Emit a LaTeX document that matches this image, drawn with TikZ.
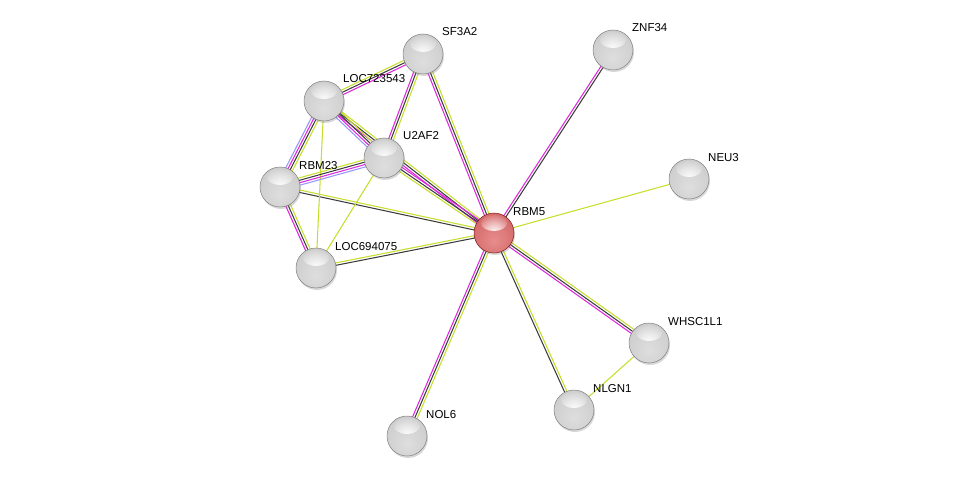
\documentclass[tikz,border=0pt]{standalone}
\usepackage{fontspec}
\setmainfont{Liberation Sans}
\usetikzlibrary{calc,backgrounds,shadows,fadings}
\definecolor{tm}{RGB}{199,222,44}
\definecolor{co}{RGB}{60,60,60}
\definecolor{ex}{RGB}{222,40,222}
\definecolor{ho}{RGB}{150,150,250}
\definecolor{g1}{RGB}{222,222,222}
\definecolor{g2}{RGB}{205,205,205}
\definecolor{g3}{RGB}{170,170,170}
\definecolor{g4}{RGB}{115,115,115}
\definecolor{r1}{RGB}{232,140,140}
\definecolor{r2}{RGB}{212,105,105}
\definecolor{r3}{RGB}{180,70,70}
\definecolor{r4}{RGB}{125,30,30}
\pgfdeclareradialshading{graysph}{\pgfpoint{0bp}{-10bp}}{color(0bp)=(g1); color(30bp)=(g2); color(46bp)=(g2); color(56bp)=(g3); color(62bp)=(g4); color(80bp)=(g4)}
\pgfdeclareradialshading{redsph}{\pgfpoint{0bp}{-10bp}}{color(0bp)=(r1); color(30bp)=(r2); color(46bp)=(r2); color(56bp)=(r3); color(62bp)=(r4); color(80bp)=(r4)}
\tikzfading[name=hlfade, inner color=transparent!0, outer color=transparent!100]
\newcommand{\ppedge}[3]{\foreach \c/\o in {#3}{\draw[\c, line width=1.05pt] ($(#1.center)!\o!90:(#2.center)$) -- ($(#2.center)!\o!-90:(#1.center)$);}}
\begin{document}
\begin{tikzpicture}[x=1pt,y=-1pt,
  prot/.style={circle, minimum size=40pt, inner sep=0pt, shading=graysph, draw=white!50!black, line width=0.5pt,
    drop shadow={shadow xshift=1pt, shadow yshift=-2pt, opacity=0.3},
    path picture={\fill[white, path fading=hlfade] ($(path picture bounding box.center)+(0,-10)$) ellipse (13 and 8);}},
  qprot/.style={prot, shading=redsph, draw=r4},
  lab/.style={anchor=base west, font=\fontsize{11.5}{13}\selectfont, inner sep=0pt}]
\useasboundingbox (0,0) rectangle (976,481);
\node[prot] (SF3A2) at (423,54) {};
\node[prot] (ZNF34) at (613,50) {};
\node[prot] (LOC723543) at (324,101) {};
\node[prot] (U2AF2) at (384,158) {};
\node[prot] (RBM23) at (280,187) {};
\node[prot] (NEU3) at (689,179) {};
\node[qprot] (RBM5) at (494,233) {};
\node[prot] (LOC694075) at (316,268) {};
\node[prot] (WHSC1L1) at (649,343) {};
\node[prot] (NLGN1) at (574,410) {};
\node[prot] (NOL6) at (407,436) {};
\foreach \n in {SF3A2,ZNF34,LOC723543,U2AF2,RBM23,NEU3,RBM5,LOC694075,WHSC1L1,NLGN1,NOL6}
  \node[lab] (l\n) at ($(\n)+(19,-18)$) {\n};
\begin{pgfonlayer}{background}
\fill[white] (0,0) rectangle (976,481);
\ppedge{SF3A2}{RBM5}{tm/2.4pt,co/0pt,ex/-2.4pt}
\ppedge{ZNF34}{RBM5}{co/1.2pt,ex/-1.2pt}
\ppedge{NEU3}{RBM5}{tm/0pt}
\ppedge{LOC723543}{RBM5}{tm/2.4pt,co/0pt,ex/-2.4pt}
\ppedge{RBM5}{U2AF2}{tm/2.4pt,co/0pt,ex/-2.4pt}
\ppedge{RBM23}{RBM5}{tm/1.2pt,co/-1.2pt}
\ppedge{LOC694075}{RBM5}{tm/1.2pt,co/-1.2pt}
\ppedge{RBM5}{WHSC1L1}{tm/2.4pt,co/0pt,ex/-2.4pt}
\ppedge{RBM5}{NLGN1}{tm/1.2pt,co/-1.2pt}
\ppedge{RBM5}{NOL6}{tm/2.4pt,co/0pt,ex/-2.4pt}
\ppedge{WHSC1L1}{NLGN1}{tm/0pt}
\ppedge{LOC723543}{SF3A2}{tm/2.4pt,co/0pt,ex/-2.4pt}
\ppedge{SF3A2}{U2AF2}{tm/2.4pt,co/0pt,ex/-2.4pt}
\ppedge{LOC723543}{U2AF2}{tm/3.6pt,co/1.2pt,ex/-1.2pt,ho/-3.6pt}
\ppedge{LOC723543}{RBM23}{tm/3.6pt,co/1.2pt,ex/-1.2pt,ho/-3.6pt}
\ppedge{LOC723543}{LOC694075}{tm/0pt}
\ppedge{RBM23}{U2AF2}{tm/3.6pt,co/1.2pt,ex/-1.2pt,ho/-3.6pt}
\ppedge{RBM23}{LOC694075}{tm/2.4pt,co/0pt,ex/-2.4pt}
\ppedge{U2AF2}{LOC694075}{tm/0pt}
\end{pgfonlayer}
\end{tikzpicture}
\end{document}
